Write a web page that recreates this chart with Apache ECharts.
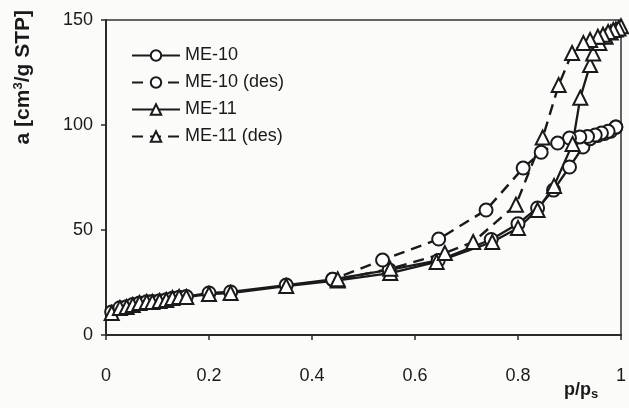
<!DOCTYPE html>
<html>
<head>
<meta charset="utf-8">
<script src="https://cdn.jsdelivr.net/npm/echarts@6/dist/echarts.min.js"></script>
<style>
  html, body { margin: 0; padding: 0; background: #fbfbfa; }
  #chart { width: 629px; height: 408px; }
</style>
</head>
<body>
<div id="chart"></div>
<script>
// Nitrogen sorption isotherms: adsorbed amount vs relative pressure
const xTicks = [0, 0.2, 0.4, 0.6, 0.8, 1];
const yTicks = [0, 50, 100, 150];

const me10AdsP = [0.011, 0.027, 0.04, 0.052, 0.065, 0.079, 0.09, 0.104, 0.117, 0.129, 0.142, 0.156, 0.2, 0.242, 0.35, 0.44, 0.55, 0.645, 0.748, 0.8, 0.838, 0.869, 0.9, 0.926, 0.94, 0.955, 0.968, 0.98, 0.99];
const me10AdsA = [11, 13, 13.5, 14.5, 15.2, 15.8, 16, 16.3, 16.8, 17.5, 18, 18.3, 20, 20.5, 23.8, 26.5, 31, 35.5, 45.5, 53, 60.5, 69, 80, 89.5, 93.5, 95, 96, 97, 99];

const me10DesP = [0.99, 0.975, 0.962, 0.95, 0.935, 0.92, 0.9, 0.877, 0.845, 0.81, 0.738, 0.646, 0.537, 0.44];
const me10DesA = [99, 97, 96.2, 95.2, 94.5, 94.3, 93.8, 91.4, 87, 79.5, 59.5, 45.7, 35.7, 26.5];

const me11AdsP = [0.011, 0.027, 0.04, 0.052, 0.065, 0.079, 0.09, 0.104, 0.117, 0.129, 0.142, 0.156, 0.2, 0.242, 0.35, 0.45, 0.552, 0.642, 0.75, 0.8, 0.838, 0.87, 0.906, 0.921, 0.94, 0.946, 0.958, 0.97, 0.98, 0.99, 1.0];
const me11AdsA = [10.5, 12.9, 13.3, 14.3, 15.2, 15.7, 15.7, 16.2, 16.7, 17.6, 18.1, 18.1, 19.5, 20, 23.3, 26, 29.5, 34.8, 44.3, 51, 59.5, 71, 91, 113, 128.6, 134, 139, 142, 144, 145.5, 147];

const me11DesP = [0.995, 0.985, 0.975, 0.965, 0.955, 0.94, 0.927, 0.905, 0.879, 0.848, 0.796, 0.713, 0.658, 0.552, 0.45];
const me11DesA = [146, 145.2, 144.3, 143, 142, 140.5, 139, 134.3, 119, 94, 62, 44.3, 39, 31.5, 26.5];

const seriesNames = ['ME-10', 'ME-10 (des)', 'ME-11', 'ME-11 (des)'];

const ink = '#1a1a1a';
const font = 'Liberation Sans, Arial, sans-serif';

function pairs(xs, ys) { return xs.map((x, i) => [x, ys[i]]); }

function makeSeries(name, xs, ys, symbol, dashed) {
  return {
    name: name,
    type: 'line',
    data: pairs(xs, ys),
    symbol: symbol,
    symbolSize: symbol === 'triangle' ? 14 : 13,
    showSymbol: true,
    smooth: false,
    lineStyle: { color: ink, width: dashed ? 2.4 : 2.3, type: dashed ? [11, 7] : 'solid' },
    itemStyle: { color: '#ffffff', borderColor: ink, borderWidth: 2 },
    emphasis: { disabled: true },
    z: 3
  };
}

const chart = echarts.init(document.getElementById('chart'), null, { renderer: 'canvas' });
chart.setOption({
  animation: false,
  backgroundColor: '#fbfbfa',
  grid: { left: 106, right: 3, top: 20, bottom: 73, show: true, borderColor: '#333', borderWidth: 1.5, backgroundColor: 'transparent' },
  legend: {
    data: seriesNames,
    orient: 'vertical',
    left: 126,
    top: 41,
    itemWidth: 48,
    itemHeight: 13,
    itemGap: 8,
    textStyle: { color: ink, fontSize: 18, fontFamily: font, lineHeight: 19 },
    itemStyle: { color: '#ffffff', borderColor: ink, borderWidth: 2 }
  },
  xAxis: {
    type: 'value',
    min: 0, max: 1, interval: 0.2,
    axisLine: { lineStyle: { color: '#2a2a2a', width: 2 } },
    axisTick: { show: true, length: 5, inside: false, lineStyle: { color: '#2a2a2a', width: 1.5 } },
    axisLabel: {
      color: ink, fontSize: 18, fontFamily: font, margin: 32,
      formatter: v => { const t = xTicks.find(k => Math.abs(k - v) < 1e-9); return t === undefined ? '' : String(t); }
    },
    splitLine: { show: false }
  },
  yAxis: {
    type: 'value',
    min: 0, max: 150, interval: 50,
    axisLine: { show: true, lineStyle: { color: '#2a2a2a', width: 2 } },
    axisTick: { show: true, length: 5, inside: false, lineStyle: { color: '#2a2a2a', width: 1.5 } },
    axisLabel: {
      color: ink, fontSize: 18, fontFamily: font, margin: 13,
      formatter: v => { const t = yTicks.find(k => Math.abs(k - v) < 1e-9); return t === undefined ? '' : String(t); }
    },
    splitLine: { show: false }
  },
  graphic: [
    {
      type: 'text',
      left: 12, top: 10,
      rotation: Math.PI / 2,
      originX: 0, originY: 0,
      style: {
        text: '{b|a [cm}{s|3}{b|/g STP]}',
        rich: {
          b: { fontSize: 21, fontWeight: 'bold', fontFamily: font, fill: ink },
          s: { fontSize: 13, fontWeight: 'bold', fontFamily: font, fill: ink, verticalAlign: 'top', padding: [0, 0, 9, 0] }
        }
      }
    },
    {
      type: 'text',
      left: 564, top: 381,
      style: {
        text: '{b|p/p}{s|s}',
        rich: {
          b: { fontSize: 18, fontWeight: 'bold', fontFamily: font, fill: ink },
          s: { fontSize: 13, fontWeight: 'bold', fontFamily: font, fill: ink, padding: [8, 0, 0, 0] }
        }
      }
    }
  ],
  series: [
    makeSeries(seriesNames[0], me10AdsP, me10AdsA, 'circle', false),
    makeSeries(seriesNames[1], me10DesP, me10DesA, 'circle', true),
    makeSeries(seriesNames[2], me11AdsP, me11AdsA, 'triangle', false),
    makeSeries(seriesNames[3], me11DesP, me11DesA, 'triangle', true)
  ]
});
</script>
</body>
</html>
